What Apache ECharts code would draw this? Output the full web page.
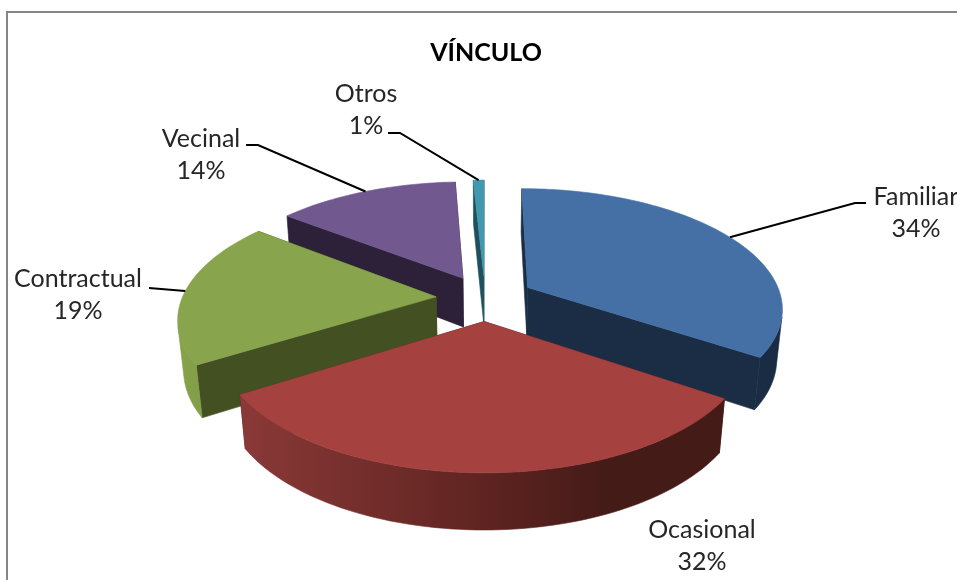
<!DOCTYPE html>
<html>
<head>
<meta charset="utf-8">
<title>VÍNCULO</title>
<script src="https://cdn.jsdelivr.net/npm/echarts@6/dist/echarts.min.js"></script>
<style>
	html, body { margin: 0; background: #fff; overflow: hidden; }
	#chart { width: 957px; height: 580px; }
</style>
</head>
<body>
<div id="chart"></div>
<script>
const categories = ['Familiar', 'Ocasional', 'Contractual', 'Vecinal', 'Otros']
// unrounded shares, labels round them
const values = [34.4, 31.7, 19.4, 13.7, 0.8]

const topColors = ['#4570a6', '#a54240', '#88a44c', '#71588f', '#4198af']
const wallColors = ['#1a2d45', '#451b18', '#435022', '#2c2139', '#1f4f5c']
const rimStops = [
	[[0, '#1c3048'], [1, '#1a2c43']],
	[[0, '#8a3937'], [0.5, '#5f2421'], [0.75, '#451b18'], [1, '#451b18']],
	[[0, '#86a24a'], [1, '#7a9443']],
	[[0, '#2c2139'], [1, '#2c2139']],
	[[0, '#1f4f5c'], [1, '#1f4f5c']]
]

// back to front
const drawOrder = [4, 3, 0, 2, 1]

// text centre + leader elbow/end, one entry per category
const labelLayout = [
	{ x: 916, y: 197, leader: [[855, 203], [866, 203]] },
	{ x: 702, y: 530 },
	{ x: 78, y: 279, leader: [[149, 288]] },
	{ x: 201, y: 139, leader: [[258, 145], [246, 145]] },
	{ x: 366, y: 94, leader: [[400, 133], [388, 133]] }
]
const lineGap = 32

// 3D view of the pie
const cx = 485, cy = 298
const radius = 254, explode = 49, height = 57
const tilt = 27.7 * Math.PI / 180, viewDist = 1379

const total = values.reduce((a, b) => a + b, 0)
const starts = []
values.reduce((acc, v, i) => { starts[i] = acc; return acc + v / total * 360 }, 0)

const project = (x, y, z) => {
	const w = 1 - (z * Math.cos(tilt) + y * Math.sin(tilt)) / viewDist
	return [cx + x / w, cy + (z * Math.sin(tilt) - y * Math.cos(tilt)) / w]
}

const quadArea = (q) => {
	let area = 0
	q.forEach((p, n) => {
		const next = q[(n + 1) % q.length]
		area += p[0] * next[1] - next[0] * p[1]
	})
	return area
}

const renderItem = (params, api) => {
	const i = api.value(1)
	const a0 = starts[i]
	const a1 = a0 + api.value(0) / total * 360
	const mid = (a0 + a1) / 2 * Math.PI / 180
	const ox = explode * Math.sin(mid), oz = -explode * Math.cos(mid)
	const rimPoint = (deg, y) => {
		const t = deg * Math.PI / 180
		return project(ox + radius * Math.sin(t), y, oz - radius * Math.cos(t))
	}
	const apexTop = project(ox, 0, oz)
	const apexBottom = project(ox, -height, oz)

	const steps = Math.max(4, Math.ceil((a1 - a0) / 1.5))
	const arcTop = [], arcBottom = []
	for (let s = 0; s <= steps; s++) {
		const deg = a0 + (a1 - a0) * s / steps
		arcTop.push(rimPoint(deg, 0))
		arcBottom.push(rimPoint(deg, -height))
	}
	const poly = (points, fill) => ({
		type: 'polygon',
		shape: { points },
		style: { fill, stroke: fill, lineWidth: 0.6 }
	})
	const xs = arcTop.map(p => p[0])
	const rimFill = {
		type: 'linear',
		global: true,
		x: Math.min(...xs), y: 0, x2: Math.max(...xs), y2: 0,
		colorStops: rimStops[i].map(s => ({ offset: s[0], color: s[1] }))
	}
	const children = [
		poly([apexTop, arcTop[0], arcBottom[0], apexBottom], wallColors[i]),
		poly([apexTop, arcTop[steps], arcBottom[steps], apexBottom], wallColors[i])
	]
	// only the part of the rim that faces the viewer, the rest would fold over itself
	const frontTop = [], frontBottom = []
	for (let s = 0; s < steps; s++) {
		if (quadArea([arcTop[s], arcTop[s + 1], arcBottom[s + 1], arcBottom[s]]) < 0) {
			if (!frontTop.length) {
				frontTop.push(arcTop[s])
				frontBottom.push(arcBottom[s])
			}
			frontTop.push(arcTop[s + 1])
			frontBottom.push(arcBottom[s + 1])
		}
	}
	if (frontTop.length) {
		children.push(poly(frontTop.concat(frontBottom.reverse()), rimFill))
	}
	children.push(poly([apexTop].concat(arcTop), topColors[i]))

	const layout = labelLayout[i]
	const pct = Math.round(api.value(0) / total * 100) + '%'
	;[categories[i], pct].forEach((text, n) => {
		children.push({
			type: 'text',
			z2: 10,
			style: {
				text,
				x: layout.x,
				y: layout.y + n * lineGap,
				align: 'center',
				verticalAlign: 'middle',
				fill: '#262626',
				font: '25px Lato'
			}
		})
	})
	if (layout.leader) {
		children.push({
			type: 'polyline',
			z2: 10,
			shape: { points: [rimPoint((a0 + a1) / 2, 0)].concat(layout.leader) },
			style: { fill: 'none', stroke: '#000', lineWidth: 2 }
		})
	}
	return { type: 'group', children }
}

const chart = echarts.init(document.getElementById('chart'))
chart.setOption({
	animation: false,
	backgroundColor: '#fff',
	title: {
		text: 'VÍNCULO',
		left: 481,
		top: 35,
		textAlign: 'center',
		textStyle: { fontFamily: 'Lato', fontWeight: 'bold', fontSize: 25, color: '#000' }
	},
	graphic: [{
		type: 'rect',
		silent: true,
		shape: { x: 7, y: 12, width: 1000, height: 700 },
		style: { fill: 'none', stroke: '#868686', lineWidth: 2 }
	}],
	series: [{
		type: 'custom',
		coordinateSystem: 'none',
		renderItem,
		data: drawOrder.map(i => ({ name: categories[i], value: [values[i], i] }))
	}]
})
</script>
</body>
</html>
